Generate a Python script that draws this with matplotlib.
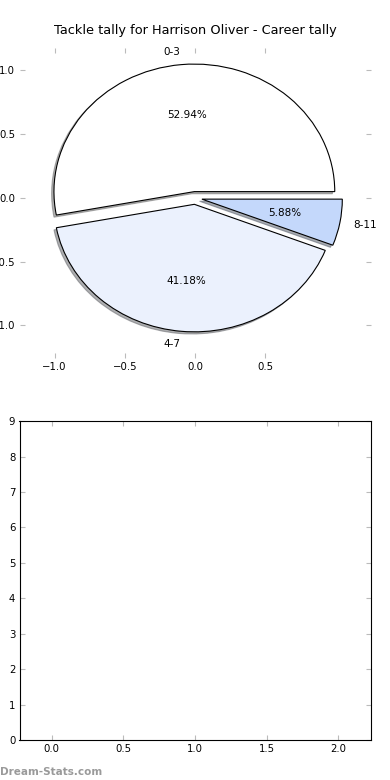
import matplotlib.pyplot as plt

# tackle tally buckets and career counts
labels = ["0-3", "4-7", "8-11"]
counts = [9, 7, 1]
colors = ["#ffffff", "#ebf1fd", "#c4d8fb"]
explode = [0.05, 0.05, 0.05]

pie_xticks = [-1.0, -0.5, 0.0, 0.5]
pie_yticks = [-1.0, -0.5, 0.0, 0.5, 1.0]
bar_yticks = list(range(10))
bar_xticks = [0.0, 0.5, 1.0, 1.5, 2.0]

plt.rcParams["font.family"] = "DejaVu Sans"

fig = plt.figure(figsize=(3.9, 7.8), dpi=100)

ax_pie = fig.add_axes([0.05, 0.541, 0.9, 0.397])
wedges, texts, autotexts = ax_pie.pie(
    counts,
    labels=labels,
    colors=colors,
    explode=explode,
    autopct="%1.2f%%",
    shadow={"ox": -0.012, "oy": -0.012, "shade": 0.6},
    wedgeprops={"edgecolor": "black", "linewidth": 0.8},
    textprops={"fontsize": 7.5},
)
ax_pie.set_aspect("auto")
ax_pie.set_frame_on(False)
ax_pie.set_xlim(-1.25, 1.25)
ax_pie.set_ylim(-1.255, 1.173)
ax_pie.set_xticks(pie_xticks)
ax_pie.set_yticks(pie_yticks)
ax_pie.tick_params(
    direction="in", length=3.5, color="#bbbbbb", labelsize=7.3,
    top=True, right=True, pad=3,
)
ax_pie.set_title("Tackle tally for Harrison Oliver - Career tally",
                 fontsize=9.3, pad=10)

ax_bar = fig.add_axes([0.05, 0.0513, 0.9, 0.4087])
ax_bar.set_xlim(-0.225, 2.225)
ax_bar.set_ylim(0, 9)
ax_bar.set_xticks(bar_xticks)
ax_bar.set_yticks(bar_yticks)
ax_bar.tick_params(
    direction="in", length=3.5, color="#bbbbbb", labelsize=7.3,
    top=True, right=True, pad=3,
)
for spine in ax_bar.spines.values():
    spine.set_linewidth(0.8)

fig.text(0.0, 0.004, "Dream-Stats.com", fontsize=7.5, fontweight="bold",
         color="#9a9a9a", ha="left", va="bottom")

fig.savefig("out.png", dpi=100)
